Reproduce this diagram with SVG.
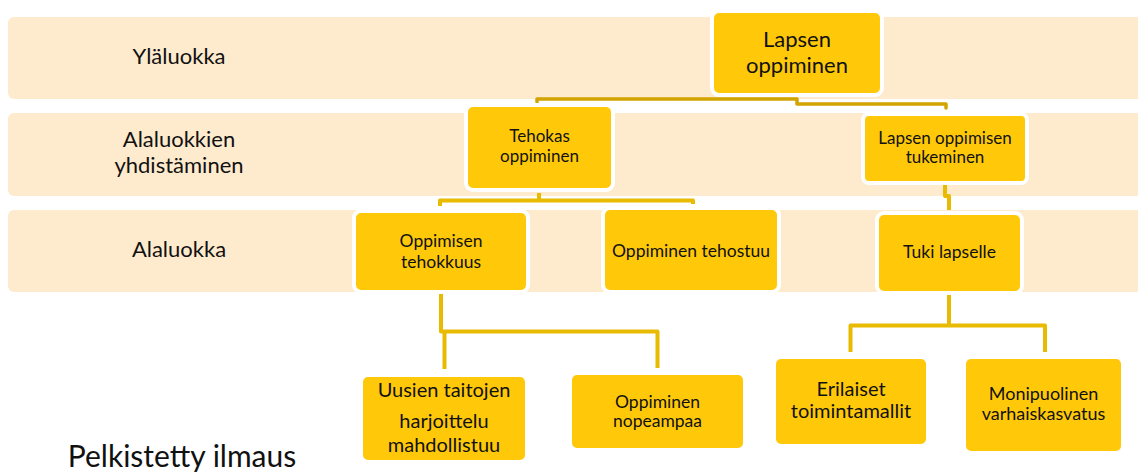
<svg xmlns="http://www.w3.org/2000/svg" width="1138" height="472" viewBox="0 0 1138 472">
<style>
.band{fill:#FEEBCD;}
.node{fill:#FFC90A;stroke:#FFFFFF;stroke-width:4;}
.t{font-family:Lato,"Open Sans","Liberation Sans",sans-serif;fill:#111111;text-anchor:middle;}
.lbl{font-size:22px;}
.c1{fill:none;stroke:#D2A400;stroke-width:3.5;stroke-linejoin:round;stroke-linecap:round;}
.c2{fill:none;stroke:#E8BA00;stroke-width:4;stroke-linejoin:round;stroke-linecap:butt;}
</style>
<rect width="1138" height="472" fill="#FFFFFF"/>
<g id="bands">
<rect class="band" x="8" y="17" width="1140" height="82" rx="6"/>
<rect class="band" x="8" y="113" width="1140" height="83" rx="6"/>
<rect class="band" x="8" y="210" width="1140" height="82" rx="6"/>
</g>
<g id="band-labels">
<text class="t lbl" x="179" y="64">Yläluokka</text>
<text class="t lbl" x="179" y="147">Alaluokkien</text>
<text class="t lbl" x="179" y="173">yhdistäminen</text>
<text class="t lbl" x="179" y="257">Alaluokka</text>
</g>
<g id="connectors">
<path class="c1" d="M537 102 V99 H797 V104 H946 V108"/>
<path class="c2" d="M440 206 V200.5 H693 V204 M539 193 V200.5"/>
<path class="c2" d="M945 185 V196 H949 V210"/>
<path class="c2" d="M441 294 V331.5 H657.5 V368 M444.5 331.5 V369"/>
<path class="c2" d="M949 294 V325.5 H850.5 V352 M949 325.5 H1045 V352"/>
</g>
<g id="n-lapsen-oppiminen">
<rect class="node" x="712" y="11" width="170" height="84" rx="7"/>
<text class="t" font-size="22" x="797" y="47">Lapsen</text>
<text class="t" font-size="22" x="797" y="73">oppiminen</text>
</g>
<g id="n-tehokas-oppiminen">
<rect class="node" x="466" y="105" width="147" height="85" rx="7"/>
<text class="t" font-size="17" x="539.5" y="142">Tehokas</text>
<text class="t" font-size="17" x="539.5" y="162">oppiminen</text>
</g>
<g id="n-lapsen-oppimisen-tukeminen">
<rect class="node" x="863" y="114" width="164" height="69" rx="6"/>
<text class="t" font-size="17" x="945" y="144">Lapsen oppimisen</text>
<text class="t" font-size="17" x="945" y="163">tukeminen</text>
</g>
<g id="n-oppimisen-tehokkuus">
<rect class="node" x="354" y="211" width="174" height="81" rx="7"/>
<text class="t" font-size="17.5" x="441" y="247">Oppimisen</text>
<text class="t" font-size="17.5" x="441" y="268">tehokkuus</text>
</g>
<g id="n-oppiminen-tehostuu">
<rect class="node" x="603" y="208" width="176" height="84" rx="7"/>
<text class="t" font-size="17.5" x="691" y="257">Oppiminen tehostuu</text>
</g>
<g id="n-tuki-lapselle">
<rect class="node" x="877" y="213" width="145" height="80" rx="7"/>
<text class="t" font-size="17.5" x="949.5" y="258">Tuki lapselle</text>
</g>
<g id="n-uusien-taitojen">
<rect class="node" x="361" y="375" width="166" height="87" rx="7"/>
<text class="t" font-size="20" x="444" y="397">Uusien taitojen</text>
<text class="t" font-size="20" x="444" y="428">harjoittelu</text>
<text class="t" font-size="20" x="444" y="452">mahdollistuu</text>
</g>
<g id="n-oppiminen-nopeampaa">
<rect class="node" x="570" y="373" width="175" height="77" rx="7"/>
<text class="t" font-size="17.5" x="657.5" y="408">Oppiminen</text>
<text class="t" font-size="17.5" x="657.5" y="427">nopeampaa</text>
</g>
<g id="n-erilaiset">
<rect class="node" x="774" y="357" width="154" height="89" rx="7"/>
<text class="t" font-size="20" x="851" y="396">Erilaiset</text>
<text class="t" font-size="20" x="851" y="418">toimintamallit</text>
</g>
<g id="n-monipuolinen">
<rect class="node" x="964" y="357" width="159" height="96" rx="7"/>
<text class="t" font-size="18" x="1043.5" y="400">Monipuolinen</text>
<text class="t" font-size="18" x="1043.5" y="420">varhaiskasvatus</text>
</g>
<text class="t" font-size="30" x="182" y="467">Pelkistetty ilmaus</text>
</svg>
